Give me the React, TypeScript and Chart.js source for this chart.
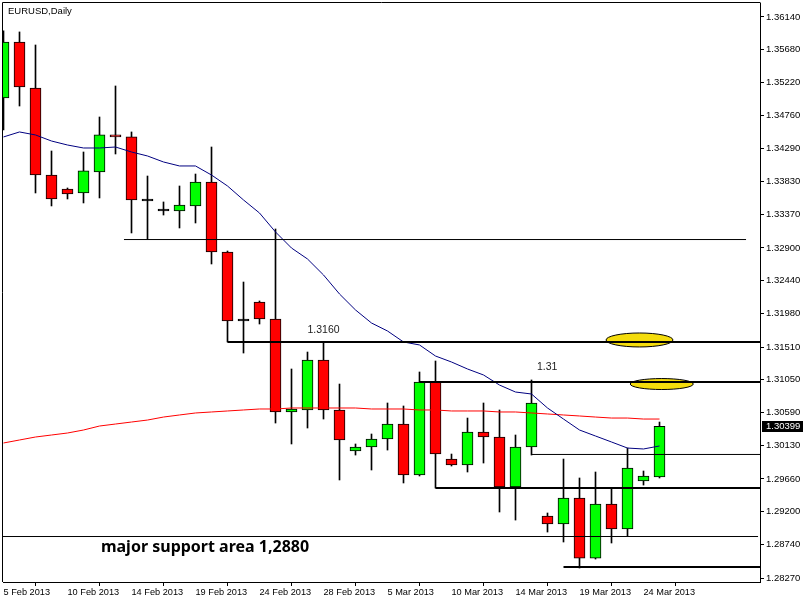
import { useEffect, useRef } from 'react';
import { Chart, registerables } from 'chart.js';

Chart.register(...registerables);

// ---- data ----
const dates = [
  '5 Feb 2013', '6 Feb 2013', '7 Feb 2013', '8 Feb 2013', '10 Feb 2013', '11 Feb 2013', '12 Feb 2013',
  '13 Feb 2013', '14 Feb 2013', '15 Feb 2013', '17 Feb 2013', '18 Feb 2013', '19 Feb 2013', '20 Feb 2013',
  '21 Feb 2013', '22 Feb 2013', '24 Feb 2013', '25 Feb 2013', '26 Feb 2013', '27 Feb 2013', '28 Feb 2013',
  '1 Mar 2013', '3 Mar 2013', '4 Mar 2013', '5 Mar 2013', '6 Mar 2013', '7 Mar 2013', '8 Mar 2013',
  '10 Mar 2013', '11 Mar 2013', '12 Mar 2013', '13 Mar 2013', '14 Mar 2013', '15 Mar 2013', '17 Mar 2013',
  '18 Mar 2013', '19 Mar 2013', '20 Mar 2013', '21 Mar 2013', '22 Mar 2013', '24 Mar 2013', '25 Mar 2013',
];

const opens = [
  1.35004, 1.35789, 1.35144, 1.33923, 1.33727, 1.33671, 1.33966, 1.34485, 1.34457, 1.33559,
  1.33418, 1.33418, 1.33489, 1.33825, 1.32843, 1.31875, 1.32142, 1.31903, 1.30599, 1.30627,
  1.31328, 1.30627, 1.30051, 1.30108, 1.30220, 1.30430, 1.29715, 1.31019, 1.29939, 1.29855,
  1.30318, 1.30248, 1.29546, 1.30108, 1.29140, 1.29027, 1.29392, 1.28550, 1.29308, 1.28957,
  1.29631, 1.29687,
];
const highs = [
  1.35944, 1.35930, 1.35747, 1.34260, 1.33741, 1.34246, 1.34737, 1.35172, 1.34527, 1.33909,
  1.33545, 1.33769, 1.33937, 1.34316, 1.32857, 1.32422, 1.32156, 1.33166, 1.31202, 1.31440,
  1.31581, 1.30991, 1.30150, 1.30290, 1.30725, 1.30683, 1.31160, 1.31314, 1.30009, 1.30514,
  1.30725, 1.30627, 1.30276, 1.31048, 1.29182, 1.29939, 1.29673, 1.29757, 1.29532, 1.30093,
  1.29771, 1.30458,
];
const lows = [
  1.34555, 1.34891, 1.33671, 1.33489, 1.33587, 1.33531, 1.33601, 1.34218, 1.33110, 1.33026,
  1.33362, 1.33180, 1.33250, 1.32675, 1.31581, 1.31426, 1.31833, 1.30444, 1.30150, 1.30374,
  1.30500, 1.29645, 1.29995, 1.29785, 1.30065, 1.29603, 1.29701, 1.29532, 1.29841, 1.29757,
  1.29883, 1.29196, 1.29083, 1.29995, 1.28915, 1.28775, 1.28410, 1.28536, 1.28761, 1.28859,
  1.29574, 1.29673,
];
const closes = [
  1.35789, 1.35158, 1.33923, 1.33587, 1.33657, 1.33980, 1.34485, 1.34457, 1.33573, 1.33559,
  1.33418, 1.33503, 1.33825, 1.32843, 1.31875, 1.31875, 1.31903, 1.30599, 1.30641, 1.31328,
  1.30627, 1.30206, 1.30108, 1.30220, 1.30430, 1.29715, 1.31019, 1.30009, 1.29855, 1.30318,
  1.30248, 1.29546, 1.30108, 1.30725, 1.29027, 1.29392, 1.28550, 1.29308, 1.28957, 1.29813,
  1.29701, 1.30399,
];

// blue moving average (fast)
const maFast = [
  1.34457, 1.34527, 1.34485, 1.34400, 1.34344, 1.34302, 1.34302, 1.34316, 1.34246, 1.34190,
  1.34106, 1.34050, 1.34050, 1.33923, 1.33769, 1.33573, 1.33390, 1.33124, 1.32899, 1.32745,
  1.32521, 1.32254, 1.32030, 1.31847, 1.31735, 1.31581, 1.31539, 1.31384, 1.31300, 1.31202,
  1.31118, 1.30977, 1.30879, 1.30851, 1.30655, 1.30500, 1.30346, 1.30262, 1.30178, 1.30093,
  1.30080, 1.30122,
];
// red moving average (slow)
const maSlow = [
  1.30164, 1.30206, 1.30248, 1.30276, 1.30304, 1.30346, 1.30402, 1.30430, 1.30458, 1.30486,
  1.30528, 1.30557, 1.30585, 1.30599, 1.30613, 1.30627, 1.30641, 1.30641, 1.30655, 1.30655,
  1.30655, 1.30655, 1.30655, 1.30641, 1.30641, 1.30641, 1.30627, 1.30627, 1.30613, 1.30613,
  1.30613, 1.30599, 1.30599, 1.30585, 1.30571, 1.30557, 1.30543, 1.30528, 1.30514, 1.30514,
  1.30500, 1.30500,
];

const yTickValues = [
  1.28270, 1.28740, 1.29200, 1.29660, 1.30130, 1.30590, 1.31050, 1.31510, 1.31980,
  1.32440, 1.32900, 1.33370, 1.33830, 1.34290, 1.34760, 1.35220, 1.35680, 1.36140,
];
const xTickIndexes = [0, 4, 8, 12, 16, 20, 24, 28, 32, 36, 40];

// horizontal levels drawn on the chart
const levelPrices = [1.33018, 1.31581, 1.31020, 1.30003, 1.29533, 1.28852, 1.28424];
const levelFrom = [7.53, 14, 26, 33, 27, -1, 35];
const levelTo = [46.41, 48, 48, 48, 48, 47.16, 48];
const levelHeavy = [false, true, true, false, true, false, true];

// text notes (anchored at candle index / price)
const noteTexts = ['1.3160', '1.31', 'major support area 1,2880'];
const noteX = [19, 33.34, 6.09];
const noteY = [1.31700, 1.31188, 1.28639];

// highlighted ellipses
const ellipseX = [39.75, 41.14];
const ellipseY = [1.31609, 1.30991];
const ellipseRX = [2.09, 1.97];
const ellipseRY = [0.00098, 0.00077];

const Y_MIN = 1.28214;
const Y_MAX = 1.36336;
const X_MIN = -0.03125;
const X_MAX = 47.28125;

const SANS = '"Liberation Sans", Arial, sans-serif';

export default function App() {
  const ref = useRef<HTMLCanvasElement | null>(null);

  useEffect(() => {
    document.body.style.margin = '0';
    const canvas = ref.current;
    if (!canvas) return;

    const bodyColors = closes.map((c, i) =>
      c > opens[i] ? '#00FF00' : c < opens[i] ? '#FF0000' : '#000000'
    );

    const levelSets = levelPrices.map((p, k) => ({
      type: 'line' as const,
      data: [
        { x: levelFrom[k], y: p },
        { x: levelTo[k], y: p },
      ],
      borderColor: '#000000',
      borderWidth: levelHeavy[k] ? 2 : 1,
      pointRadius: 0,
      fill: false,
      order: 0,
    }));

    const overlay = {
      id: 'mt4overlay',
      beforeDatasetsDraw(chart: any) {
        const { ctx, chartArea } = chart;
        const xs = chart.scales.x;
        const ys = chart.scales.y;
        ctx.save();
        ctx.beginPath();
        ctx.rect(chartArea.left, chartArea.top, chartArea.right - chartArea.left, chartArea.bottom - chartArea.top);
        ctx.clip();
        ellipseX.forEach((ex, k) => {
          const cx = xs.getPixelForValue(ex);
          const cy = ys.getPixelForValue(ellipseY[k]);
          const rx = xs.getPixelForValue(ex + ellipseRX[k]) - cx;
          const ry = cy - ys.getPixelForValue(ellipseY[k] + ellipseRY[k]);
          ctx.beginPath();
          ctx.ellipse(cx, cy, rx, ry, 0, 0, Math.PI * 2);
          ctx.fillStyle = '#F4DC0C';
          ctx.fill();
          ctx.lineWidth = 1;
          ctx.strokeStyle = '#000000';
          ctx.stroke();
        });
        ctx.restore();
      },
      afterDatasetsDraw(chart: any) {
        const { ctx } = chart;
        const xs = chart.scales.x;
        const ys = chart.scales.y;
        ctx.save();
        ctx.textBaseline = 'alphabetic';
        ctx.textAlign = 'left';
        noteTexts.forEach((t, k) => {
          const px = xs.getPixelForValue(noteX[k]);
          const py = ys.getPixelForValue(noteY[k]);
          if (k === 2) {
            ctx.font = 'bold 16px "Noto Sans", "Open Sans", sans-serif';
            ctx.fillStyle = '#000000';
          } else {
            ctx.font = '10.5px ' + SANS;
            ctx.fillStyle = '#1a1a1a';
          }
          ctx.fillText(t, px, py);
        });
        ctx.restore();
      },
      afterDraw(chart: any) {
        const { ctx, chartArea } = chart;
        const ys = chart.scales.y;
        ctx.save();
        // left & top frame
        ctx.strokeStyle = '#000000';
        ctx.lineWidth = 1;
        ctx.beginPath();
        ctx.moveTo(chartArea.left - 0.5, chartArea.bottom);
        ctx.lineTo(chartArea.left - 0.5, chartArea.top - 0.5);
        ctx.lineTo(chartArea.right + 0.5, chartArea.top - 0.5);
        ctx.stroke();
        // title
        ctx.font = '9.5px ' + SANS;
        ctx.fillStyle = '#000000';
        ctx.textBaseline = 'middle';
        ctx.textAlign = 'left';
        ctx.fillText('EURUSD,Daily', 8, 11);
        // current price label
        const last = closes[closes.length - 1];
        const py = Math.round(ys.getPixelForValue(last));
        ctx.fillStyle = '#000000';
        ctx.fillRect(chartArea.right + 2, py - 5, 45, 11);
        ctx.fillStyle = '#FFFFFF';
        ctx.fillText(last.toFixed(5), chartArea.right + 6, py + 0.5);
        ctx.restore();
      },
    };

    const chart = new Chart(canvas, {
      type: 'bar',
      data: {
        datasets: [
          ...levelSets,
          {
            type: 'line',
            data: maFast.map((v, i) => ({ x: i, y: v })),
            borderColor: '#000080',
            borderWidth: 1,
            pointRadius: 0,
            fill: false,
            order: 1,
          },
          {
            type: 'line',
            data: maSlow.map((v, i) => ({ x: i, y: v })),
            borderColor: '#FF0000',
            borderWidth: 1,
            pointRadius: 0,
            fill: false,
            order: 1,
          },
          {
            type: 'bar',
            data: opens.map((o, i) => ({ x: i, y: [o, closes[i]] })),
            backgroundColor: bodyColors,
            borderColor: '#000000',
            borderWidth: 1,
            borderSkipped: false,
            barThickness: 11,
            minBarLength: 2,
            grouped: false,
            order: 2,
          },
          {
            type: 'bar',
            data: lows.map((l, i) => ({ x: i, y: [l, highs[i]] })),
            backgroundColor: '#000000',
            borderWidth: 0,
            barThickness: 1,
            grouped: false,
            order: 3,
          },
        ] as any,
      },
      options: {
        responsive: false,
        animation: false,
        devicePixelRatio: 1,
        layout: { padding: { left: 3, top: 3, right: 0, bottom: 0 } },
        plugins: { legend: { display: false }, tooltip: { enabled: false } },
        events: [],
        scales: {
          x: {
            type: 'linear',
            min: X_MIN,
            max: X_MAX,
            offset: false,
            grid: { display: true, drawOnChartArea: false, drawTicks: true, tickLength: 4, color: '#000000' },
            border: { display: true, color: '#000000', width: 1 },
            afterBuildTicks: (s: any) => {
              s.ticks = xTickIndexes.map((v) => ({ value: v }));
            },
            afterFit: (s: any) => {
              s.height = 18;
              s.paddingLeft = 0;
              s.paddingRight = 0;
            },
            ticks: {
              autoSkip: false,
              maxRotation: 0,
              align: 'start',
              padding: 1,
              color: '#000000',
              font: { family: SANS, size: 9.2 },
              callback: (v: any) => dates[Math.round(Number(v))] ?? '',
            },
          },
          y: {
            type: 'linear',
            position: 'right',
            min: Y_MIN,
            max: Y_MAX,
            grid: { display: true, drawOnChartArea: false, drawTicks: true, tickLength: 4, color: '#000000' },
            border: { display: true, color: '#000000', width: 1 },
            afterBuildTicks: (s: any) => {
              s.ticks = yTickValues.map((v) => ({ value: v }));
            },
            afterFit: (s: any) => {
              s.width = 43;
              s.paddingTop = 0;
              s.paddingBottom = 0;
            },
            ticks: {
              autoSkip: false,
              padding: 2,
              color: '#000000',
              font: { family: SANS, size: 9.5 },
              callback: (v: any) => Number(v).toFixed(5),
            },
          },
        },
      },
      plugins: [overlay],
    });

    return () => chart.destroy();
  }, []);

  return (
    <div style={{ width: 803, height: 600, position: 'relative' }}>
      <canvas ref={ref} width={803} height={600} style={{ display: 'block' }} />
    </div>
  );
}
